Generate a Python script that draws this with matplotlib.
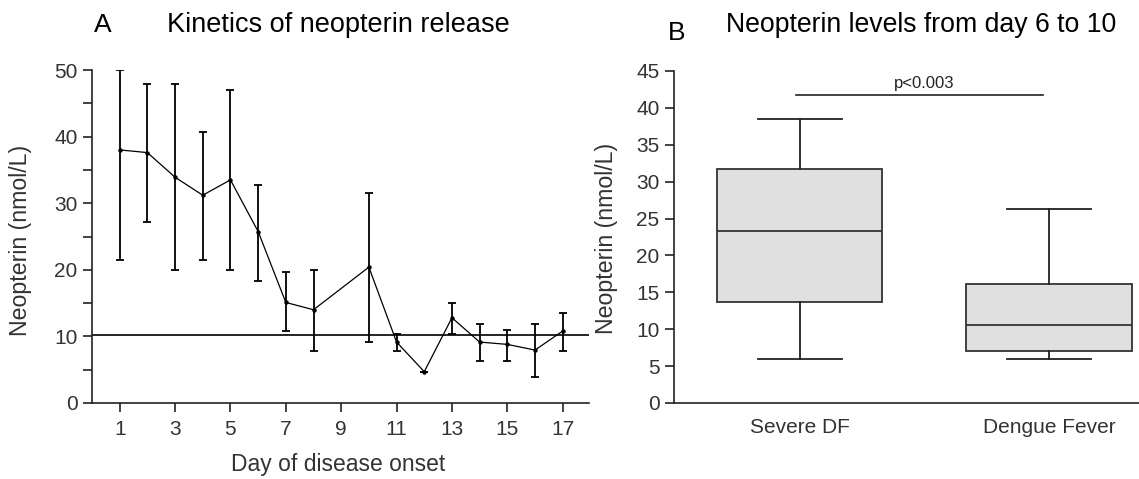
import matplotlib
matplotlib.use("Agg")
import matplotlib.pyplot as plt
import numpy as np

plt.rcParams["font.family"] = ["Liberation Sans", "DejaVu Sans"]

# Panel A: kinetics (mean with asymmetric error bars)
days = [1, 2, 3, 4, 5, 6, 7, 8, 10, 11, 12, 13, 14, 15, 16, 17]
neo_mean = [38.0, 37.6, 33.9, 31.2, 33.5, 25.75, 15.1, 14.0, 20.4, 9.15, 4.7, 12.8, 9.15, 8.8, 7.95, 10.8]
neo_upper = [50.0, 47.9, 47.9, 40.7, 47.05, 32.75, 19.6, 20.0, 31.5, 10.35, 4.7, 15.05, 11.85, 10.95, 11.85, 13.55]
neo_lower = [21.5, 27.25, 20.0, 21.5, 20.0, 18.35, 10.85, 7.85, 9.15, 7.85, 4.7, 10.35, 6.35, 6.35, 3.95, 7.85]
cutoff = 10.2
day_ticks = [1, 3, 5, 7, 9, 11, 13, 15, 17]

# Panel B: box plot summary (whisker low, Q1, median, Q3, whisker high)
groups = ["Severe DF", "Dengue Fever"]
whislo = [5.97, 5.97]
q1 = [13.66, 7.1]
med = [23.3, 10.54]
q3 = [31.66, 16.15]
whishi = [38.5, 26.3]
p_text = "p<0.003"
p_level = 41.8

fig = plt.figure(figsize=(11.39, 4.79), dpi=100)
axA = fig.add_axes([92 / 1139, 1 - 403 / 479, (589 - 92) / 1139, (403 - 70) / 479])
axB = fig.add_axes([674 / 1139, 1 - 403 / 479, (1139 - 674) / 1139, (403 - 71) / 479])

tick_col = "#333333"
for ax in (axA, axB):
    for s in ("top", "right"):
        ax.spines[s].set_visible(False)
    for s in ("left", "bottom"):
        ax.spines[s].set_linewidth(1.2)
        ax.spines[s].set_color("#222222")
    ax.tick_params(labelsize=15, labelcolor=tick_col, width=1.2, length=6.5,
                   color="#222222", pad=4)

# ---- panel A
lo = np.array(neo_mean) - np.array(neo_lower)
hi = np.array(neo_upper) - np.array(neo_mean)
axA.errorbar(days, neo_mean, yerr=[lo, hi], fmt="none", ecolor="black",
             elinewidth=1.3, capsize=2.6, capthick=1.3)
axA.plot(days, neo_mean, color="black", lw=0.9, marker="o", ms=2.2)
axA.axhline(cutoff, color="black", lw=1.2)
axA.set_xlim(0, 17.95)
axA.set_ylim(0, 50)
axA.set_xticks(day_ticks)
axA.set_yticks([0, 10, 20, 30, 40, 50])
axA.set_yticks([5, 15, 25, 35, 45], minor=True)
axA.tick_params(axis="y", which="minor", length=6.5, width=1.2, color="#222222")
axA.tick_params(axis="x", pad=6)

# ---- panel B
stats = []
for i, g in enumerate(groups):
    stats.append(dict(label=g, whislo=whislo[i], q1=q1[i], med=med[i],
                      q3=q3[i], whishi=whishi[i], fliers=[]))
bp = axB.bxp(stats, positions=[0, 1], widths=0.663, patch_artist=True,
             showfliers=False,
             boxprops=dict(facecolor="#e0e0e0", edgecolor="#333333", lw=1.3),
             medianprops=dict(color="#333333", lw=1.3),
             whiskerprops=dict(color="#222222", lw=1.3),
             capprops=dict(color="#222222", lw=1.3),
             capwidths=0.337)
axB.set_xlim(-0.504, 1.361)
axB.set_ylim(0, 45)
axB.set_yticks(np.arange(0, 46, 5))
axB.tick_params(axis="x", length=0, pad=11)
axB.plot([-0.014, 0.974], [p_level, p_level], color="#222222", lw=1.2)
axB.text(0.50, p_level + 0.5, p_text, ha="center", va="bottom", fontsize=12,
         color="#222222")

# titles and labels
fig.text(103 / 1139, 1 - 25 / 479, "A", ha="center", va="center", fontsize=19)
fig.text(338 / 1139, 1 - 25 / 479, "Kinetics of neopterin release",
         ha="center", va="center", fontsize=19.5)
fig.text(677 / 1139, 1 - 33 / 479, "B", ha="center", va="center", fontsize=19)
fig.text(921 / 1139, 1 - 25 / 479, "Neopterin levels from day 6 to 10",
         ha="center", va="center", fontsize=19.2)
fig.text(21 / 1139, 1 - 240 / 479, "Neopterin (nmol/L)", rotation=90,
         ha="center", va="center", fontsize=16.7, color=tick_col)
fig.text(607 / 1139, 1 - 238 / 479, "Neopterin (nmol/L)", rotation=90,
         ha="center", va="center", fontsize=16.7, color=tick_col)
fig.text(338 / 1139, 1 - 465 / 479, "Day of disease onset",
         ha="center", va="center", fontsize=16.5, color=tick_col)

fig.savefig("out.png", dpi=100)
